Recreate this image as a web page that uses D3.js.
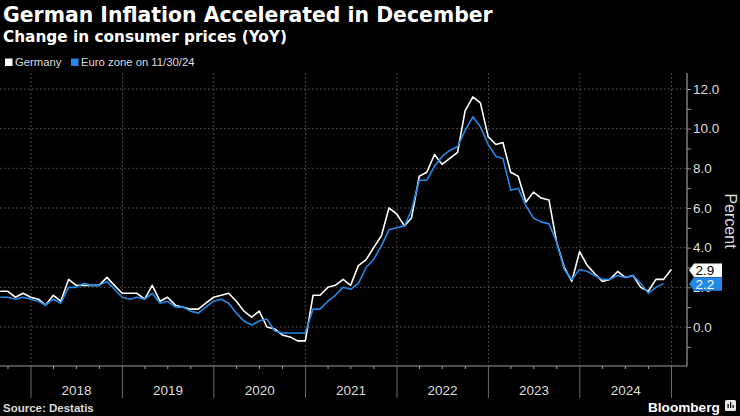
<!DOCTYPE html>
<html><head><meta charset="utf-8">
<script src="https://cdn.jsdelivr.net/npm/d3@7"></script>
<style>html,body{margin:0;padding:0;background:#000;} svg{display:block;}</style>
</head><body>
<svg id="c" width="740" height="416"></svg>
<script>
// ---------------- data ----------------
const titleText = "German Inflation Accelerated in December";
const subtitleText = "Change in consumer prices (YoY)";
const seriesNames = ["Germany", "Euro zone on 11/30/24"];
const seriesColors = ["#ffffff", "#2489e6"];
const firstMonth = "2017-08";   // first monthly observation
// Germany, Aug 2017 – Dec 2024 (YoY %)
const germany = [
  1.8, 1.8, 1.5, 1.7, 1.5,
  1.4, 1.1, 1.6, 1.3, 2.4, 2.1, 2.1, 2.1, 2.1, 2.5, 2.1, 1.7,
  1.7, 1.7, 1.4, 2.1, 1.3, 1.5, 1.1, 1.0, 0.9, 0.9, 1.2, 1.5,
  1.6, 1.7, 1.3, 0.8, 0.5, 0.8, 0.0, -0.1, -0.4, -0.5, -0.7, -0.7,
  1.6, 1.6, 2.0, 2.1, 2.4, 2.1, 3.1, 3.4, 4.0, 4.6, 6.0, 5.7,
  5.1, 5.5, 7.6, 7.8, 8.7, 8.2, 8.5, 8.8, 10.9, 11.6, 11.3, 9.6,
  9.2, 9.3, 7.8, 7.6, 6.3, 6.8, 6.5, 6.4, 4.3, 3.0, 2.3, 3.8,
  3.1, 2.7, 2.3, 2.4, 2.8, 2.5, 2.6, 2.0, 1.8, 2.4, 2.4, 2.9
];
// Euro zone, Aug 2017 – Nov 2024 (YoY %)
const euroZone = [
  1.5, 1.5, 1.4, 1.5, 1.4,
  1.3, 1.1, 1.4, 1.2, 2.0, 2.0, 2.2, 2.1, 2.1, 2.3, 1.9, 1.5,
  1.4, 1.5, 1.4, 1.7, 1.2, 1.3, 1.0, 1.0, 0.8, 0.7, 1.0, 1.3,
  1.4, 1.2, 0.7, 0.3, 0.1, 0.3, 0.4, -0.2, -0.3, -0.3, -0.3, -0.3,
  0.9, 0.9, 1.3, 1.6, 2.0, 1.9, 2.2, 3.0, 3.4, 4.1, 4.9, 5.0,
  5.1, 5.9, 7.4, 7.4, 8.1, 8.6, 8.9, 9.1, 9.9, 10.6, 10.1, 9.2,
  8.6, 8.5, 6.9, 7.0, 6.1, 5.5, 5.3, 5.2, 4.3, 2.9, 2.4, 2.9,
  2.8, 2.6, 2.4, 2.4, 2.6, 2.5, 2.6, 2.2, 1.7, 2.0, 2.2
];
const yTickValues = [0, 2, 4, 6, 8, 10, 12];
const yearLabels = ["2018", "2019", "2020", "2021", "2022", "2023", "2024"];
const sourceText = "Source: Destatis";

// ---------------- layout ----------------
const svg = d3.select("#c");
const plot = {left: 0, right: 687, top: 73, bottom: 366};
const parseMonth = d3.timeParse("%Y-%m");
const start = parseMonth(firstMonth);
const monthEnd = (i) => { const m = d3.timeMonth.offset(start, i); return new Date(m.getFullYear(), m.getMonth() + 1, 0); };

const x = d3.scaleTime()
  .domain([new Date(2018, 0, 1), new Date(2025, 0, 1)])
  .range([31, 671.5]);
const y = d3.scaleLinear().domain([0, 12]).range([327, 89]);

svg.append("rect").attr("width", 740).attr("height", 416).attr("fill", "#000");

// title + subtitle, fitted to widths in the reference
function fitText(sel, target) {
  const w = sel.node().getComputedTextLength();
  const fs = parseFloat(sel.attr("font-size"));
  sel.attr("font-size", (fs * target / w).toFixed(2));
}
const title = svg.append("text").attr("x", 3).attr("y", 21.7)
  .attr("font-family", "DejaVu Sans").attr("font-weight", "bold").attr("font-size", 17.5)
  .attr("fill", "#fff").text(titleText);
fitText(title, 490);
const sub = svg.append("text").attr("x", 3).attr("y", 42.3)
  .attr("font-family", "DejaVu Sans").attr("font-weight", "bold").attr("font-size", 14.5)
  .attr("fill", "#fff").text(subtitleText);
fitText(sub, 284);

// legend
const legX = [5, 71];
seriesNames.forEach((n, i) => {
  svg.append("rect").attr("x", legX[i]).attr("y", 58.5).attr("width", 7.5).attr("height", 7.5)
    .attr("fill", seriesColors[i]);
  svg.append("text").attr("x", legX[i] + 10).attr("y", 66)
    .attr("font-family", "Liberation Sans, Arial, sans-serif").attr("font-size", 11.3)
    .attr("fill", "#dcdcdc").text(n);
});

// grid
const years = d3.timeYear.range(new Date(2018, 0, 1), new Date(2025, 0, 2));
const grid = svg.append("g");
grid.selectAll("line.h").data(yTickValues).join("line")
  .attr("x1", plot.left).attr("x2", plot.right)
  .attr("y1", d => y(d)).attr("y2", d => y(d))
  .attr("stroke", "#5a5a5a").attr("stroke-width", 1).attr("stroke-dasharray", "1.5,2.5");
grid.selectAll("line.v").data(years).join("line")
  .attr("x1", d => x(d)).attr("x2", d => x(d))
  .attr("y1", plot.top).attr("y2", plot.bottom)
  .attr("stroke", "#5a5a5a").attr("stroke-width", 1).attr("stroke-dasharray", "1.5,2.5");

// clip
svg.append("clipPath").attr("id", "clip").append("rect")
  .attr("x", plot.left).attr("y", plot.top)
  .attr("width", plot.right - plot.left).attr("height", plot.bottom - plot.top);

const line = d3.line().x((d, i) => x(monthEnd(i))).y(d => y(d));
const lines = svg.append("g").attr("clip-path", "url(#clip)");
lines.append("path").datum(germany).attr("d", line)
  .attr("fill", "none").attr("stroke", seriesColors[0]).attr("stroke-width", 1.6)
  .attr("stroke-linejoin", "round");
lines.append("path").datum(euroZone).attr("d", line)
  .attr("fill", "none").attr("stroke", seriesColors[1]).attr("stroke-width", 1.6)
  .attr("stroke-linejoin", "round");

// right axis
const axisColor = "#9a9a9a";
svg.append("line").attr("x1", plot.right).attr("x2", plot.right)
  .attr("y1", plot.top).attr("y2", plot.bottom).attr("stroke", axisColor).attr("stroke-width", 1.2);
const yAxis = d3.axisRight(y).tickValues(d3.range(-1, 13))
  .tickSize(4).tickPadding(2)
  .tickFormat(d => yTickValues.includes(d) ? d3.format(".1f")(d) : "");
const ya = svg.append("g").attr("transform", `translate(${plot.right},0)`).call(yAxis);
ya.select(".domain").remove();
ya.selectAll(".tick line").attr("stroke", axisColor);
ya.selectAll(".tick text").attr("fill", "#dcdcdc")
  .attr("font-family", "Liberation Sans, Arial, sans-serif").attr("font-size", 13.5);

// bottom axis
svg.append("line").attr("x1", plot.left).attr("x2", plot.right)
  .attr("y1", plot.bottom).attr("y2", plot.bottom).attr("stroke", axisColor).attr("stroke-width", 1.2);
const quarters = d3.timeMonth.every(3).range(new Date(2017, 9, 1), new Date(2025, 0, 1))
  .filter(d => d.getMonth() !== 0);
svg.append("g").selectAll("line").data(quarters).join("line")
  .attr("x1", d => x(d)).attr("x2", d => x(d))
  .attr("y1", plot.bottom).attr("y2", plot.bottom + 3).attr("stroke", axisColor);
svg.append("g").selectAll("line").data(years).join("line")
  .attr("x1", d => x(d)).attr("x2", d => x(d))
  .attr("y1", plot.bottom).attr("y2", 398).attr("stroke", "#6a6a6a");
svg.append("g").selectAll("text").data(yearLabels).join("text")
  .attr("x", d => x(new Date(+d, 6, 2)))
  .attr("y", 395).attr("text-anchor", "middle")
  .attr("font-family", "Liberation Sans, Arial, sans-serif").attr("font-size", 13.5)
  .attr("fill", "#dcdcdc").text(d => d);

// axis title
svg.append("text").attr("transform", `translate(725,221) rotate(90)`)
  .attr("text-anchor", "middle")
  .attr("font-family", "Liberation Sans, Arial, sans-serif").attr("font-size", 16)
  .attr("fill", "#dcdcdc").text("Percent");

// end-value labels
const ends = [
  {v: germany[germany.length - 1], bg: seriesColors[0], fg: "#000"},
  {v: euroZone[euroZone.length - 1], bg: seriesColors[1], fg: "#fff"}
];
ends.forEach(e => {
  const cy = y(e.v) + 0.7, h = 13.6, x0 = 689, x1 = 694, x2 = 722;
  svg.append("path")
    .attr("d", `M${x0},${cy} L${x1},${cy - h / 2} L${x2},${cy - h / 2} L${x2},${cy + h / 2} L${x1},${cy + h / 2} Z`)
    .attr("fill", e.bg);
  svg.append("text").attr("x", 695.5).attr("y", cy + 4.8)
    .attr("font-family", "Liberation Sans, Arial, sans-serif").attr("font-size", 13.5)
    .attr("fill", e.fg).text(d3.format(".1f")(e.v));
});

// footer
svg.append("text").attr("x", 3).attr("y", 411.5)
  .attr("font-family", "Liberation Sans, Arial, sans-serif").attr("font-weight", "bold")
  .attr("font-size", 11.5).attr("fill", "#dcdcdc").text(sourceText);
svg.append("text").attr("x", 648).attr("y", 411.5)
  .attr("font-family", "Liberation Sans, Arial, sans-serif").attr("font-weight", "bold")
  .attr("font-size", 13.6).attr("fill", "#fff").text("Bloomberg");
const logo = svg.append("g").attr("transform", "translate(725,400)");
logo.append("rect").attr("width", 11).attr("height", 11).attr("rx", 1.5).attr("fill", "#e6e6e6");
[[2.5, 4], [5, 2], [7.5, 5]].forEach(([bx, by]) => {
  logo.append("rect").attr("x", bx).attr("y", by).attr("width", 1.2).attr("height", 8 - by).attr("fill", "#000");
});
</script>
</body></html>
